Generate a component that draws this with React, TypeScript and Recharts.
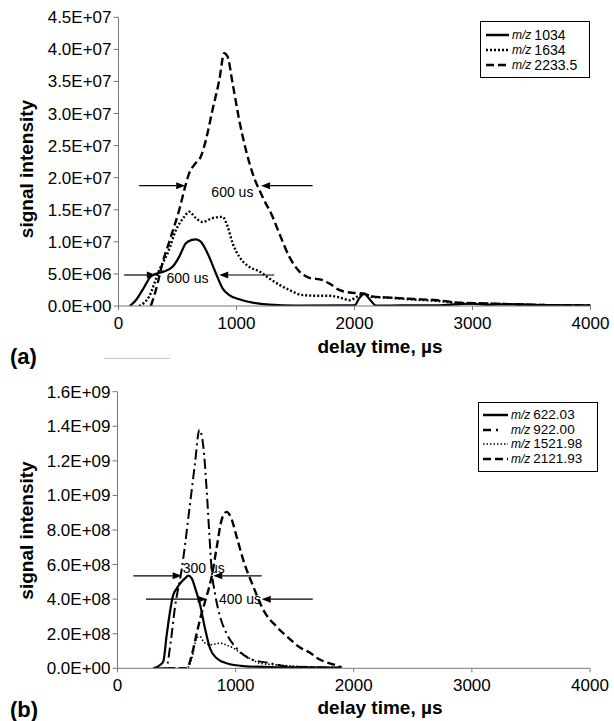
import React from 'react';
import { LineChart, Line, XAxis, YAxis, ReferenceLine, ReferenceDot, Legend } from 'recharts';

const FONT = '"Liberation Sans", Arial, Helvetica, sans-serif';

// ---------- shared axis ----------
const timeTicks = [0, 1000, 2000, 3000, 4000];

// ---------- panel (a): signal in units of 1e6 ----------
const unitA = 1e6;
const yTicksA = [0, 5e6, 1e7, 1.5e7, 2e7, 2.5e7, 3e7, 3.5e7, 4e7, 4.5e7];
const legendA = ['1034', '1634', '2233.5'];

const mz1034Time = [96, 147, 204, 274, 331, 387, 458, 515, 571, 622, 656, 698, 755, 825, 882, 939, 1023, 1136, 1278, 1504, 2000, 2040, 2084, 2130, 2185, 2400, 2700, 2900, 3000, 3100, 3300, 3600, 4000];
const mz1034Signal = [0, 0.9, 2.5, 4.6, 5.1, 5.4, 6.1, 7.7, 9.8, 10.3, 10.4, 10.0, 8.2, 5.1, 2.75, 1.7, 1.04, 0.52, 0.2, 0.05, 0.1, 1.2, 1.9, 1.0, 0.05, 0.1, 0.1, 0.3, 0.35, 0.2, 0.3, 0.15, 0.1];

const mz1634Time = [175, 260, 345, 416, 486, 557, 599, 656, 712, 797, 882, 924, 967, 1023, 1108, 1193, 1278, 1363, 1447, 1560, 1674, 1787, 1871, 1956, 2027, 2084, 2150, 2300, 2500, 2700, 2900, 3100, 3300, 3600, 4000];
const mz1634Signal = [0, 1.5, 5.6, 8.2, 11.8, 13.9, 14.7, 13.7, 13.1, 13.7, 13.9, 12.4, 9.8, 7.7, 6.1, 5.4, 4.3, 3.3, 2.5, 1.7, 1.6, 1.6, 1.35, 0.9, 1.5, 1.9, 1.4, 1.3, 1.0, 0.8, 0.45, 0.4, 0.3, 0.15, 0.05];

const mz2233Time = [274, 317, 373, 444, 515, 565, 599, 650, 698, 741, 797, 854, 896, 924, 967, 1023, 1080, 1136, 1221, 1306, 1363, 1447, 1532, 1617, 1730, 1787, 1871, 1956, 2027, 2084, 2150, 2300, 2500, 2700, 2900, 3100, 3300, 3600, 4000];
const mz2233Signal = [0, 2.5, 6.7, 10.8, 15.0, 18.6, 20.7, 22.2, 23.3, 25.9, 30.6, 35.2, 39.4, 38.9, 34.7, 29.0, 24.3, 20.7, 17.0, 13.9, 11.3, 7.7, 5.4, 4.4, 4.05, 3.5, 2.5, 2.1, 2.0, 1.9, 1.5, 1.3, 1.1, 0.9, 0.5, 0.4, 0.3, 0.15, 0.1];

// width-marker arrows of panel (a): [fromTime, toTime, level(1e6)]
const arrowsA = [
  [175, 565, 18.75],
  [1645, 1208, 18.75],
  [48, 317, 4.83],
  [1320, 854, 4.83],
];
const notesA = [
  ['600 us', 965, 17.8],
  ['600 us', 585, 4.3],
];

// ---------- panel (b): signal in units of 1e8 ----------
const unitB = 1e8;
const yTicksB = [0, 2e8, 4e8, 6e8, 8e8, 1e9, 1.2e9, 1.4e9, 1.6e9];
const legendB = ['622.03', '922.00', '1521.98', '2121.93'];

const mz622Time = [303, 360, 388, 416, 445, 470, 500, 529, 571, 600, 628, 664, 698, 741, 783, 840, 924, 1065, 1348, 1600, 1884];
const mz622Signal = [0, 0.19, 0.4, 1.9, 3.3, 4.2, 4.6, 4.9, 5.2, 5.36, 5.2, 4.5, 3.7, 2.3, 1.16, 0.58, 0.29, 0.13, 0.06, 0.05, 0.04];

const mz922Time = [332, 400, 416, 450, 487, 543, 614, 656, 693, 727, 755, 778, 797, 826, 868, 924, 1009, 1122, 1291, 1460, 1884];
const mz922Signal = [0, 0, 0.09, 1.5, 3.56, 5.7, 9.5, 11.85, 13.8, 12.8, 10.3, 7.7, 5.7, 4.3, 3.0, 2.0, 1.15, 0.55, 0.3, 0.09, 0.04];

const mz1521Time = [420, 586, 630, 670, 698, 727, 783, 840, 868, 920, 980, 1040, 1093, 1150, 1206, 1348, 1500, 1650, 1884];
const mz1521Signal = [0, 0, 0.6, 1.75, 1.84, 1.55, 1.36, 1.42, 1.46, 1.35, 1.17, 0.9, 0.68, 0.45, 0.29, 0.2, 0.12, 0.08, 0.03];

const mz2121Time = [420, 586, 630, 670, 705, 741, 797, 840, 882, 924, 967, 1009, 1065, 1150, 1235, 1348, 1450, 1545, 1630, 1700, 1790, 1860, 1898];
const mz2121Signal = [0, 0, 0.8, 2.0, 3.0, 3.85, 5.3, 7.0, 8.6, 9.05, 8.6, 7.6, 6.26, 4.72, 3.37, 2.4, 1.75, 1.2, 0.9, 0.55, 0.3, 0.15, 0.05];

const arrowsB = [
  [134, 543, 5.35],
  [1221, 811, 5.35],
  [241, 755, 4.0],
  [1653, 1221, 4.0],
];
const notesB = [
  ['300 us', 730, 5.8],
  ['400 us', 1037, 4.0],
];

// ---------- helpers ----------
const toPoints = (ts: number[], vs: number[], unit: number) =>
  ts.map((t, i) => ({ t, v: vs[i] * unit }));

const sci = (v: number) => {
  const [m, e] = v.toExponential(1).split('e');
  const n = parseInt(e, 10);
  return `${m}E${n < 0 ? '-' : '+'}${String(Math.abs(n)).padStart(2, '0')}`;
};

const ArrowShape = (props: any) => {
  const { x1, y1, x2, y2 } = props;
  const dx = x2 - x1;
  const dy = y2 - y1;
  const len = Math.hypot(dx, dy) || 1;
  const ux = dx / len;
  const uy = dy / len;
  const hl = 9;
  const hw = 3.5;
  const bx = x2 - ux * hl;
  const by = y2 - uy * hl;
  return (
    <g>
      <line x1={x1} y1={y1} x2={bx} y2={by} stroke="#000" strokeWidth={1.2} />
      <polygon
        points={`${x2},${y2} ${bx - uy * hw},${by + ux * hw} ${bx + uy * hw},${by - ux * hw}`}
        fill="#000"
      />
    </g>
  );
};

const noteShape = (text: string) => (p: any) => (
  <text x={p.cx} y={p.cy} textAnchor="middle" dominantBaseline="central" fontFamily={FONT} fontSize={14} fill="#000">
    {text}
  </text>
);

const makeLegend = (labels: string[], dashes: string[], widths: number[], rowH: number, sampleW: number, padTop: number, padLeft: number, numSize: number) => () => (
  <div
    style={{
      border: '1.5px solid #000',
      background: '#fff',
      boxSizing: 'border-box',
      width: '100%',
      height: '100%',
      paddingTop: padTop,
      paddingLeft: padLeft,
      fontFamily: FONT,
      color: '#000',
    }}
  >
    {labels.map((lab, i) => (
      <div key={lab} style={{ display: 'flex', alignItems: 'center', height: rowH, whiteSpace: 'nowrap' }}>
        <svg width={sampleW} height={8} style={{ display: 'block' }}>
          <line x1={0} y1={4} x2={sampleW} y2={4} stroke="#000" strokeWidth={widths[i]} strokeDasharray={dashes[i]} />
        </svg>
        <span style={{ fontStyle: 'italic', fontSize: 12, marginLeft: 3, lineHeight: 1 }}>m/z</span>
        <span style={{ fontSize: numSize, marginLeft: 3, lineHeight: 1 }}>{lab}</span>
      </div>
    ))}
  </div>
);

const tickStyle = { fontSize: 17, fill: '#000', fontFamily: FONT };

const yTitle = (cy: number) => () => (
  <text
    x={33}
    y={cy}
    transform={`rotate(-90 33 ${cy})`}
    textAnchor="middle"
    fontFamily={FONT}
    fontWeight="bold"
    fontSize={19}
    fill="#000"
  >
    signal intensity
  </text>
);

const xTitle = (baseline: number) => () => (
  <text x={380} y={baseline} textAnchor="middle" fontFamily={FONT} fontWeight="bold" fontSize={19} fill="#000">
    delay time, µs
  </text>
);

const DASHED = '8 4';

export default function App() {
  const s1034 = toPoints(mz1034Time, mz1034Signal, unitA);
  const s1634 = toPoints(mz1634Time, mz1634Signal, unitA);
  const s2233 = toPoints(mz2233Time, mz2233Signal, unitA);

  const s622 = toPoints(mz622Time, mz622Signal, unitB);
  const s922 = toPoints(mz922Time, mz922Signal, unitB);
  const s1521 = toPoints(mz1521Time, mz1521Signal, unitB);
  const s2121 = toPoints(mz2121Time, mz2121Signal, unitB);

  return (
    <div style={{ position: 'absolute', left: 0, top: 0, width: 614, height: 721, background: '#fff' }}>
      {/* panel (a) */}
      <div style={{ position: 'absolute', left: 0, top: 0 }}>
        <LineChart width={614} height={360} margin={{ top: 17.3, right: 23.5, left: 58.5, bottom: 24 }}>
          <XAxis
            dataKey="t"
            type="number"
            domain={[0, 4000]}
            ticks={timeTicks}
            allowDataOverflow
            height={30}
            stroke="#777"
            tickSize={4}
            tickMargin={7}
            tick={tickStyle}
            label={xTitle(353)}
          />
          <YAxis
            dataKey="v"
            type="number"
            domain={[0, 4.5e7]}
            ticks={yTicksA}
            allowDataOverflow
            width={60}
            stroke="#777"
            tickSize={5}
            tickMargin={2}
            tick={tickStyle}
            tickFormatter={sci}
            interval={0}
            label={yTitle(169)}
          />
          <Line data={s1034} dataKey="v" name="1034" type="monotone" stroke="#000" strokeWidth={2.2} dot={false} isAnimationActive={false} />
          <Line data={s1634} dataKey="v" name="1634" type="monotone" stroke="#000" strokeWidth={2.4} strokeDasharray="2 2" dot={false} isAnimationActive={false} />
          <Line data={s2233} dataKey="v" name="2233.5" type="monotone" stroke="#000" strokeWidth={2.4} strokeDasharray={DASHED} dot={false} isAnimationActive={false} />
          {arrowsA.map(([a, b, lvl], i) => (
            <ReferenceLine
              key={`aa${i}`}
              segment={[{ x: a, y: lvl * unitA }, { x: b, y: lvl * unitA }]}
              shape={ArrowShape}
              ifOverflow="visible"
            />
          ))}
          {notesA.map(([txt, t, lvl], i) => (
            <ReferenceDot key={`na${i}`} x={t as number} y={(lvl as number) * unitA} r={1} shape={noteShape(txt as string)} ifOverflow="visible" />
          ))}
          <Legend
            layout="horizontal"
            verticalAlign="middle"
            align="center"
            wrapperStyle={{ left: 480, top: 21, width: 110, height: 57 }}
            content={makeLegend(legendA, ['', '2 2', DASHED], [2.5, 2.5, 2.5], 15, 23, 5, 5, 14)}
          />
        </LineChart>
      </div>

      <div style={{ position: 'absolute', left: 10, top: 345, fontFamily: FONT, fontWeight: 'bold', fontSize: 22, lineHeight: '24px', color: '#000' }}>
        (a)
      </div>
      <div style={{ position: 'absolute', left: 104, top: 358, width: 66, height: 0, borderTop: '1.5px solid #c8c8c8' }} />

      {/* panel (b) */}
      <div style={{ position: 'absolute', left: 0, top: 360 }}>
        <LineChart width={614} height={361} margin={{ top: 31.7, right: 24, left: 57.5, bottom: 22.7 }}>
          <XAxis
            dataKey="t"
            type="number"
            domain={[0, 4000]}
            ticks={timeTicks}
            allowDataOverflow
            height={30}
            stroke="#777"
            tickSize={4}
            tickMargin={7}
            tick={tickStyle}
            label={xTitle(354)}
          />
          <YAxis
            dataKey="v"
            type="number"
            domain={[0, 1.6e9]}
            ticks={yTicksB}
            allowDataOverflow
            width={60}
            stroke="#777"
            tickSize={5}
            tickMargin={2}
            tick={tickStyle}
            tickFormatter={sci}
            interval={0}
            label={yTitle(170.5)}
          />
          <Line data={s622} dataKey="v" name="622.03" type="monotone" stroke="#000" strokeWidth={2.2} dot={false} isAnimationActive={false} />
          <Line data={s922} dataKey="v" name="922.00" type="monotone" stroke="#000" strokeWidth={2} strokeDasharray="10 4 2 4" dot={false} isAnimationActive={false} />
          <Line data={s1521} dataKey="v" name="1521.98" type="monotone" stroke="#000" strokeWidth={1.6} strokeDasharray="1.5 2" dot={false} isAnimationActive={false} />
          <Line data={s2121} dataKey="v" name="2121.93" type="monotone" stroke="#000" strokeWidth={2.4} strokeDasharray={DASHED} dot={false} isAnimationActive={false} />
          {arrowsB.map(([a, b, lvl], i) => (
            <ReferenceLine
              key={`ab${i}`}
              segment={[{ x: a, y: lvl * unitB }, { x: b, y: lvl * unitB }]}
              shape={ArrowShape}
              ifOverflow="visible"
            />
          ))}
          {notesB.map(([txt, t, lvl], i) => (
            <ReferenceDot key={`nb${i}`} x={t as number} y={(lvl as number) * unitB} r={1} shape={noteShape(txt as string)} ifOverflow="visible" />
          ))}
          <Legend
            layout="horizontal"
            verticalAlign="middle"
            align="center"
            wrapperStyle={{ left: 478, top: 41.7, width: 120, height: 70 }}
            content={makeLegend(legendB, ['', '8 5 2 12', '1.5 2', DASHED], [2.5, 2.5, 1.6, 2.5], 14.6, 25, 5, 4, 13.5)}
          />
        </LineChart>
      </div>

      <div style={{ position: 'absolute', left: 10, top: 698, fontFamily: FONT, fontWeight: 'bold', fontSize: 22, lineHeight: '24px', color: '#000' }}>
        (b)
      </div>
    </div>
  );
}
